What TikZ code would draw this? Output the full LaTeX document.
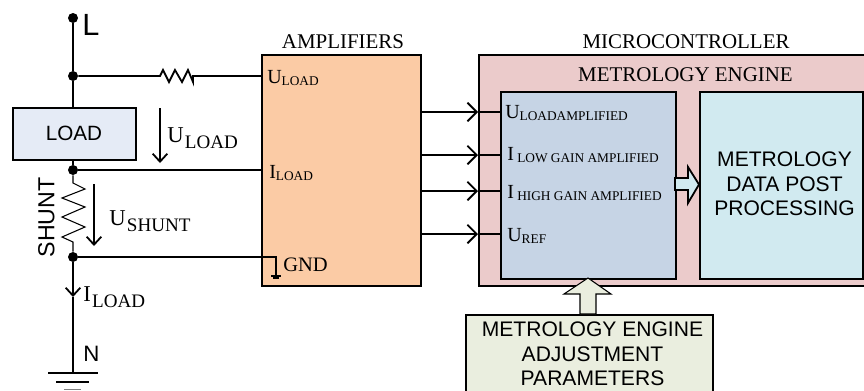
\documentclass[tikz,border=0pt]{standalone}
\usepackage{fontspec}
\setmainfont{Liberation Serif}
\setsansfont{Liberation Sans}
\usetikzlibrary{arrows.meta, positioning, calc}
\definecolor{ampfill}{HTML}{FBCBA5}
\definecolor{mcufill}{HTML}{EBCBCB}
\definecolor{enginefill}{HTML}{C6D4E5}
\definecolor{postfill}{HTML}{D1EAF0}
\definecolor{loadfill}{HTML}{E5EBF6}
\definecolor{paramfill}{HTML}{EAEEDF}
\newcommand{\sublabel}[2]{{\fontsize{15}{15}\selectfont #1}{\fontsize{10}{10}\selectfont\raisebox{-2.2pt}{#2}}}
\newcommand{\biglabel}[2]{{\fontsize{17}{17}\selectfont #1}\hspace{1pt}{\fontsize{14.3}{14.3}\selectfont\raisebox{-4.5pt}{#2}}}
\tikzset{
  wire/.style={line width=1.35pt},
  thinwire/.style={line width=0.8pt},
  blockbox/.style={draw, line width=1.35pt, inner sep=0pt, anchor=north west},
  dot/.style={circle, fill=black, inner sep=0pt, minimum size=7.5pt},
  openarrow/.style={line width=1.35pt, -{Straight Barb[length=6pt,width=11pt,line width=1.35pt]}},
  pinarrow/.style={line width=1.35pt, -{Straight Barb[length=7pt,width=14pt,line width=1.35pt]}},
  pinlabel/.style={inner sep=0pt, anchor=base west},
  title/.style={inner sep=0pt, anchor=base, font=\fontsize{15.7}{15.7}\selectfont},
  sanstext/.style={inner sep=0pt, font=\sffamily\fontsize{15.8}{18.4}\selectfont, align=center},
}
\begin{document}
\begin{tikzpicture}[x=0.75pt, y=-0.75pt]
\useasboundingbox (0,0) rectangle (864,390);
% boxes
\node[blockbox, fill=ampfill, minimum width=159*0.75pt, minimum height=231*0.75pt] (amp) at (261,54) {};
\node[blockbox, fill=mcufill, minimum width=390*0.75pt, minimum height=231*0.75pt] (mcu) at (478,54) {};
\node[blockbox, fill=enginefill, minimum width=175*0.75pt, minimum height=187*0.75pt] (engine) at (500,91) {};
\node[blockbox, fill=postfill, minimum width=163*0.75pt, minimum height=187*0.75pt] (post) at (699,91) {};
\node[blockbox, fill=loadfill, minimum width=123*0.75pt, minimum height=52*0.75pt] (load) at (12,107) {};
\node[inner sep=0pt, anchor=base, font=\sffamily\fontsize{15.5}{15.5}\selectfont] (loadtext) at (74,140) {LOAD};
\node[sanstext] (posttext) at (784.5,184) {METROLOGY\\DATA POST\\PROCESSING};
% titles
\node[title] (amptitle) at (343,48) {AMPLIFIERS};
\node[title] (mcutitle) at (686,48) {MICROCONTROLLER};
\node[title] (enginetitle) at (685.5,81) {METROLOGY ENGINE};
% adjustment box, runs off the bottom edge
\node[blockbox, fill=paramfill, minimum width=247*0.75pt, minimum height=90*0.75pt] (param) at (465,314) {};
\node[sanstext] (paramtext) at (592.5,354) {METROLOGY ENGINE\\ADJUSTMENT\\PARAMETERS};
% mains line
\coordinate (line) at (73,18);
\coordinate (top) at (73,76);
\coordinate (mid) at (73,170);
\coordinate (low) at (73,257);
\coordinate (earth) at (73,373);
\node[dot] (L) at (line) {};
\node[dot] (j1) at (top) {};
\node[dot] (j2) at (mid) {};
\node[dot] (j3) at (low) {};
\node[inner sep=0pt, anchor=base west, font=\sffamily\fontsize{23}{23}\selectfont] (Ltext) at (82,35) {L};
\node[inner sep=0pt, anchor=base west, font=\sffamily\fontsize{16.7}{16.7}\selectfont] (Ntext) at (83,361) {N};
\draw[wire] (L) -- (j1) -- (load.north -| j1);
\draw[wire] (load.south -| j1) -- (j2);
% series resistor
\draw[wire] (j1) -- (160,76) -- (163,70) -- (169,82) -- (175,70) -- (182,82) -- (188,70) -- (193,82) -- (193,76) -- (amp.west |- j1);
\draw[wire] (j2) -- (amp.west |- j2);
% shunt
\node[inner sep=0pt, rotate=90, font=\sffamily\fontsize{17.4}{17.4}\selectfont] (shunttext) at (46.5,217.5) {SHUNT};
\draw[thinwire] (j2) -- (73,183) -- (85,189) -- (62,198) -- (85,207) -- (62,217) -- (85,227) -- (62,237) -- (73,242) -- (j3);
% voltage arrows
\coordinate (uloada) at (160,108);
\coordinate (uloadb) at (160,163);
\coordinate (ushunta) at (94,184);
\coordinate (ushuntb) at (94,246);
\draw[openarrow] (uloada) -- (uloadb);
\draw[openarrow] (ushunta) -- (ushuntb);
\node[pinlabel] (uloadtext) at (167,142) {\biglabel{U}{LOAD}};
\node[pinlabel] (ushunttext) at (109,225) {\biglabel{U}{SHUNT}};
% to ground
\coordinate (itip) at (73,297);
\draw[openarrow, line width=1.8pt] (j3) -- (itip);
\draw[thinwire] (itip) -- (earth);
\node[pinlabel] (iloadtext) at (83,301) {\biglabel{I}{LOAD}};
\draw[thinwire] (48,373) -- (98,373);
\draw[wire] (56,382) -- (89,382);
\draw[wire, gray] (64,389.5) -- (81,389.5);
% amplifier pins
\node[pinlabel] (ampu) at (267,83) {\sublabel{U}{LOAD}};
\node[pinlabel] (ampi) at (269,178) {\sublabel{I}{LOAD}};
\node[pinlabel, font=\fontsize{15.4}{15.4}\selectfont] (ampgnd) at (283,271) {GND};
\draw[wire] (j3) -- (276,257) -- (276,276);
\draw[wire] (271,276) -- (281,276);
\draw[thinwire] (273,278) -- (279,278);
% amplifier to metrology engine
\foreach \y/\name in {112/a, 155/b, 191/c, 234/d} {
  \coordinate (out\name) at (amp.east |- 0,\y);
  \coordinate (pin\name) at (engine.west |- 0,\y);
  \draw[pinarrow] (out\name) -- (mcu.west |- 0,\y);
  \draw[wire] (mcu.west |- 0,\y) -- (pin\name);
}
\node[pinlabel] (pina) at (505,118) {\sublabel{U}{LOADAMPLIFIED}};
\node[pinlabel] (pinb) at (507,160) {\sublabel{I}{ LOW GAIN AMPLIFIED}};
\node[pinlabel] (pinc) at (507,198) {\sublabel{I}{ HIGH GAIN AMPLIFIED}};
\node[pinlabel] (pind) at (507,241) {\sublabel{U}{REF}};
% block arrows
\draw[line width=1.35pt, fill=postfill] (675,178) -- (688,178) -- (688,167) -- (699,184.5) -- (688,203) -- (688,190) -- (675,190) -- cycle;
\draw[line width=0.8pt, fill=paramfill] (580,314) -- (580,294) -- (564,294) -- (588,278) -- (611,294) -- (596,294) -- (596,314) -- cycle;
\end{tikzpicture}
\end{document}
